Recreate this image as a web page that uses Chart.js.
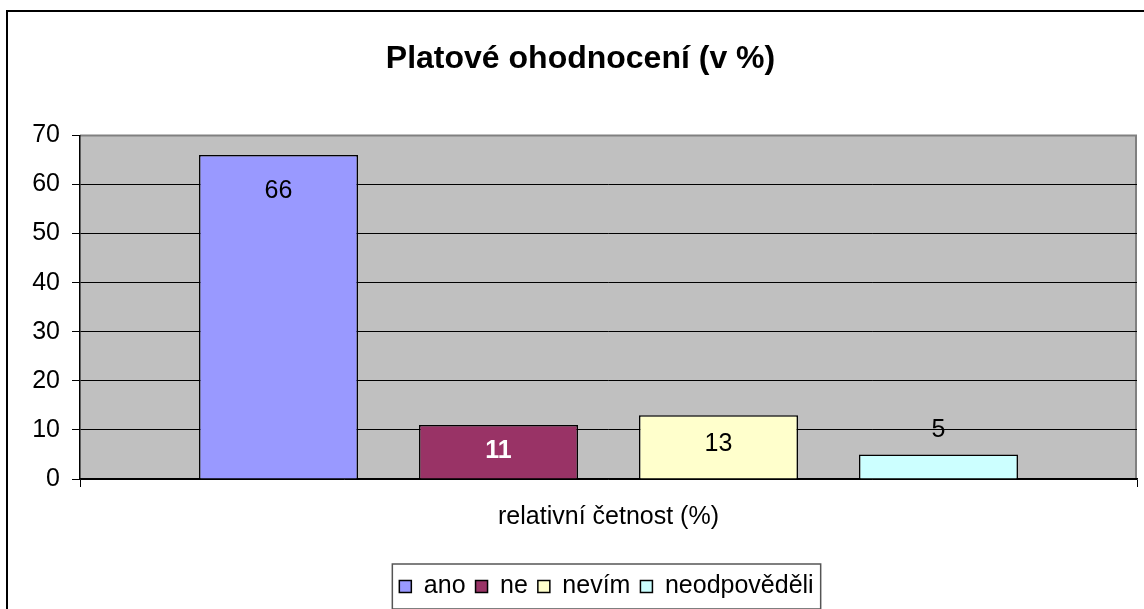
<!DOCTYPE html>
<html>
<head>
<meta charset="utf-8">
<title>Platové ohodnocení</title>
<script src="https://cdn.jsdelivr.net/npm/chart.js@4.4.0/dist/chart.umd.min.js"></script>
<style>
  html, body { margin: 0; padding: 0; background: #fff; }
  canvas { display: block; }
</style>
</head>
<body>
<canvas id="chart" width="1144" height="609"></canvas>
<script>
// Data
const categories = ['relativní četnost (%)'];
const seriesNames = ['ano', 'ne', 'nevím', 'neodpověděli'];
const anoValues = [66];
const neValues = [11];
const nevimValues = [13];
const neodpovedeliValues = [5];
const yTickValues = [0, 10, 20, 30, 40, 50, 60, 70];

// Styles
const FONT = '"Liberation Sans", Arial, sans-serif';
const seriesColors = ['#9999ff', '#993366', '#ffffcc', '#ccffff'];
const labelColors = ['#000', '#fff', '#000', '#000'];
const labelBold = [false, true, false, false];
const labelOffsets = [36, 26, 29, -24]; // px from bar top, down is positive

// Plot area background, outer frame, legend box
const chartFrame = {
    id: 'chartFrame',
    beforeDraw(chart) {
        const {ctx, chartArea: a, width, height} = chart;
        ctx.save();
        ctx.fillStyle = '#fff';
        ctx.fillRect(0, 0, width, height);
        ctx.strokeStyle = '#000';
        ctx.lineWidth = 2;
        ctx.beginPath();
        ctx.moveTo(7, height + 5);
        ctx.lineTo(7, 11);
        ctx.lineTo(width + 5, 11);
        ctx.stroke();
        ctx.fillStyle = '#c0c0c0';
        ctx.fillRect(a.left, a.top, a.right - a.left, a.bottom - a.top);
        ctx.strokeStyle = '#808080';
        ctx.lineWidth = 2;
        ctx.beginPath();
        ctx.moveTo(a.left, a.top);
        ctx.lineTo(a.right - 1, a.top);
        ctx.lineTo(a.right - 1, a.bottom);
        ctx.stroke();
        ctx.restore();
    },
    afterDraw(chart) {
        const boxes = chart.legend.legendHitBoxes;
        if (!boxes || !boxes.length) return;
        const first = boxes[0];
        const last = boxes[boxes.length - 1];
        const ctx = chart.ctx;
        const mid = first.top + first.height / 2;
        ctx.save();
        ctx.strokeStyle = '#555';
        ctx.lineWidth = 1.5;
        ctx.strokeRect(first.left - 7, mid - 22.5, last.left + last.width + 7 - (first.left - 7), 45);
        ctx.restore();
    }
};

// Move title and legend like the original
const boxShift = {
    id: 'boxShift',
    afterLayout(chart, args, opts) {
        const t = chart.titleBlock;
        const l = chart.legend;
        t.left += opts.titleX; t.right += opts.titleX;
        l.left += opts.legendX; l.right += opts.legendX;
        l.top += opts.legendY; l.bottom += opts.legendY;
    }
};

// Value labels on bars
const valueLabels = {
    id: 'valueLabels',
    afterDatasetsDraw(chart) {
        const ctx = chart.ctx;
        chart.data.datasets.forEach((ds, i) => {
            const el = chart.getDatasetMeta(i).data[0];
            ctx.save();
            ctx.font = (labelBold[i] ? 'bold ' : '') + '25px ' + FONT;
            ctx.fillStyle = labelColors[i];
            ctx.textAlign = 'center';
            ctx.textBaseline = 'middle';
            ctx.fillText(String(ds.data[0]), el.x, el.y + labelOffsets[i]);
            ctx.restore();
        });
    }
};

const allValues = [anoValues, neValues, nevimValues, neodpovedeliValues];

new Chart(document.getElementById('chart'), {
    type: 'bar',
    data: {
        labels: categories,
        datasets: seriesNames.map((name, i) => ({
            label: name,
            data: allValues[i],
            backgroundColor: seriesColors[i],
            borderColor: '#000',
            borderWidth: 1.5,
            categoryPercentage: 0.8325,
            barPercentage: 0.7227
        }))
    },
    options: {
        responsive: false,
        animation: false,
        layout: { padding: { left: 0, right: 7, top: 0, bottom: 9 } },
        scales: {
            x: {
                afterFit: s => { s.height = 76; },
                grid: { display: true, drawOnChartArea: false, color: '#000', tickLength: 8, lineWidth: 1 },
                border: { display: true, color: '#000', width: 1.5 },
                ticks: { color: '#000', font: { family: FONT, size: 25 }, padding: 15 }
            },
            y: {
                min: 0,
                max: 70,
                afterFit: s => { s.width = 80; },
                afterBuildTicks: s => { s.ticks = yTickValues.map(v => ({ value: v })); },
                grid: {
                    color: c => (c.tick && c.tick.value === 70) ? 'rgba(0,0,0,0)' : '#000',
                    tickColor: '#000',
                    tickLength: 8,
                    lineWidth: 1
                },
                border: { display: true, color: '#000', width: 1.5 },
                ticks: { color: '#000', font: { family: FONT, size: 25 }, padding: 12 }
            }
        },
        plugins: {
            title: {
                display: true,
                text: 'Platové ohodnocení (v %)',
                color: '#000',
                font: { family: FONT, size: 32, weight: 'bold' },
                padding: { top: 40, bottom: 57 }
            },
            legend: {
                position: 'bottom',
                labels: {
                    color: '#000',
                    font: { family: FONT, size: 25 },
                    boxWidth: 12,
                    boxHeight: 12,
                    padding: 10
                }
            },
            tooltip: { enabled: false },
            boxShift: { titleX: 12, legendX: 38, legendY: 9 }
        }
    },
    plugins: [chartFrame, boxShift, valueLabels]
});
</script>
</body>
</html>
